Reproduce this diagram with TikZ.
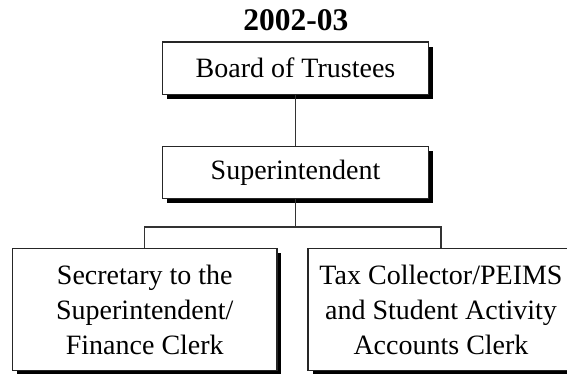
\documentclass[tikz,border=0pt]{standalone}
\usepackage{fontspec}
\setmainfont{Liberation Serif}
\usetikzlibrary{shadows}
\begin{document}
\begin{tikzpicture}[x=1pt,y=-1pt,
  box/.style={draw=black!85,line width=1.3pt,fill=white,inner sep=0pt,
    align=center,font=\fontsize{28}{35}\selectfont,
    drop shadow={shadow xshift=4.5pt,shadow yshift=-4.5pt,opacity=1,fill=black}},
  conn/.style={draw=black!80,line width=1.3pt},
  ttl/.style={font=\fontsize{31.5}{36}\selectfont\bfseries,inner sep=0pt}]
\useasboundingbox (0,0) rectangle (567,374);
\clip (0,0) rectangle (567,374);
\fill[white] (0,0) rectangle (567,374);
\node[ttl,anchor=base] (title) at (295.8,31) {2002-03};
\node[box,minimum width=265.6pt,minimum height=52.3pt] (board) at (295.5,68.2) {Board of Trustees};
\node[box,minimum width=265.6pt,minimum height=51.6pt] (super) at (295.5,172.5) {Superintendent};
\coordinate (j) at (295.5,227);
\draw[conn] (board.south) -- (super.north);
\draw[conn] (super.south) -- (j);
\node[box,minimum width=264.3pt,minimum height=122.4pt] (sec) at (144.8,309.5) {Secretary to the\\Superintendent/\\Finance Clerk};
\node[box,minimum width=266pt,minimum height=122.4pt] (tax) at (441,309.5) {Tax Collector/PEIMS\\and Student Activity\\Accounts Clerk};
\draw[conn] (sec.north) |- (j) -| (tax.north);
\end{tikzpicture}
\end{document}
